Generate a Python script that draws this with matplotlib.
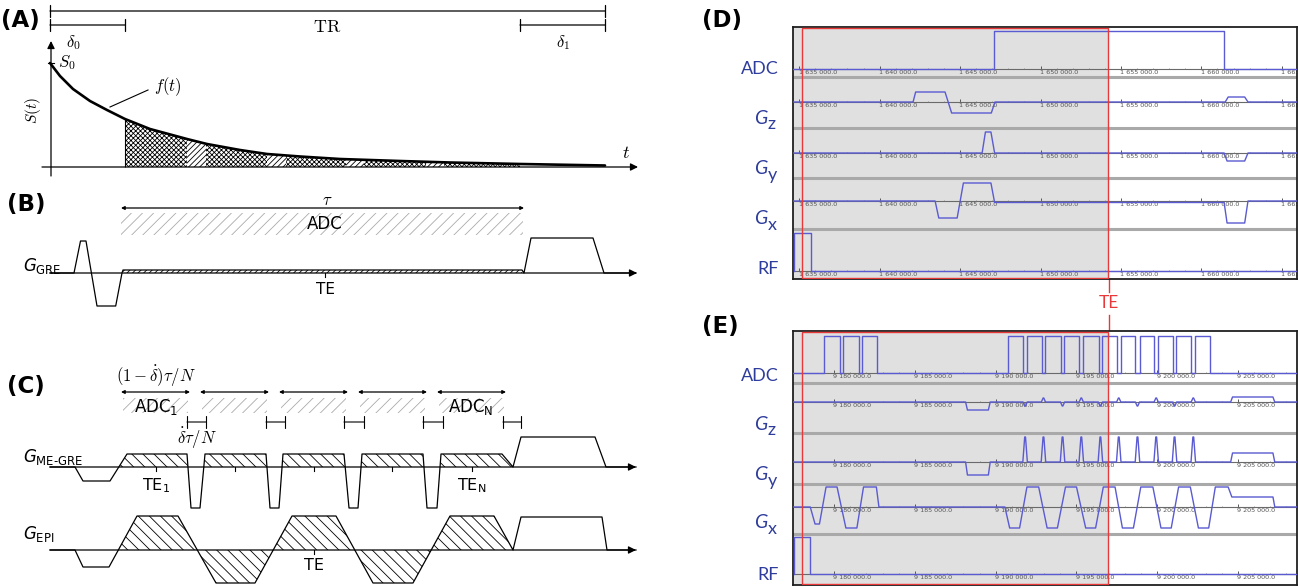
import matplotlib
matplotlib.use("Agg")
import matplotlib.pyplot as plt
import numpy as np
from matplotlib.patches import Polygon, Rectangle

plt.rcParams["mathtext.fontset"] = "cm"
plt.rcParams["hatch.linewidth"] = 0.6

W, H = 1298, 587
BLUE = "#5a5ad2"
LABEL_BLUE = "#2e3c9c"
RED = "#e8383a"
SHADE = "#e0e0e0"
SEP = "#a9a9a9"
HATCH_GRAY = "#aaaaaa"

# ---------------- (A) signal decay, schematic time units ----------------
TR_SPAN = (50, 605)
DELTA0_SPAN = (50, 125)
DELTA1_SPAN = (520, 605)
CURVE_T = [50, 60, 73, 90, 107, 125, 150, 187, 207, 240, 267, 300, 340, 400, 450, 520, 605]
CURVE_S = [104, 91, 78, 66, 57, 48, 38, 28, 23, 17, 13, 10.5, 8, 6, 4.5, 3, 1.5]
CROSS_SEGS = [(125, 187), (206, 267), (286, 346), (364, 426), (444, 520)]
DIAG_SEGS = [(187, 206), (267, 286), (346, 364), (426, 444)]

# ---------------- (B) GRE ----------------
TAU_SPAN = (121, 524)
GRE_T = [50, 74, 80.5, 86, 97, 115.7, 122, 123, 522, 524, 531, 593, 604, 636]
GRE_A = [0, 0, 32, 32, -33, -33, 0, 3, 3, 0, 35, 35, 0, 0]
GRE_TE = 325

# ---------------- (C) ME-GRE and EPI ----------------
ADC_SEGS = [(121, 190), (200, 269), (279, 348), (358, 427), (437, 506)]
GAP_SEGS = [(187, 206), (266, 285), (344, 364), (423, 443), (503, 521)]
ME_T = [50, 75, 83, 110, 127, 187, 191, 200, 205, 266, 270, 279, 283, 344, 349, 358,
        362, 423, 427, 437, 441, 502, 513, 521, 595, 606, 636]
ME_A = [0, 0, -14, -14, 13, 13, -41, -41, 13, 13, -41, -41, 13, 13, -41, -41,
        13, 13, -41, -41, 13, 13, 0, 30, 30, 0, 0]
ME_TE = [156, 235, 314, 392, 472]
EPI_T = [50, 75, 83, 109, 137, 178, 216, 255, 292, 336, 373, 413, 450, 494, 513, 521, 602, 607, 636]
EPI_A = [0, 0, -17, -17, 34, 34, -33, -33, 34, 34, -33, -33, 34, 34, 0, 33, 33, 0, 0]
EPI_TE = 314

# ---------------- (D) sequence diagram, GRE ----------------
D_RANGE = (1634612, 1665945)
D_START = 1635160
D_TE = 1654224
D_MAJOR = list(range(1635000, 1665001, 5000))
D_ADC_T = [1634612, 1647100, 1647100, 1661414, 1661414, 1665945]
D_ADC_A = [0, 0, 38, 38, 0, 0]
D_GZ_T = [1634612, 1642077, 1642237, 1644064, 1644474, 1646940, 1647168,
          1661483, 1661666, 1662693, 1662898, 1665945]
D_GZ_A = [0, 0, 10, 10, -11, -11, 0, 0, 5, 5, 0, 0]
D_GY_T = [1634612, 1646369, 1646575, 1646917, 1647146, 1661414, 1661597, 1662693, 1662898, 1665945]
D_GY_A = [0, 0, 21, 21, 0, 0, -8, -8, 0, 0]
D_GX_T = [1634612, 1643447, 1643675, 1644817, 1645205, 1646917, 1647146,
          1661414, 1661597, 1662693, 1662898, 1665945]
D_GX_A = [0, 0, -17, -17, 18, 18, -1.5, -1.5, -22, -22, 0, 0]
D_RF_T = [1634658, 1634658, 1635731, 1635731, 1665945]
D_RF_A = [0, 38, 38, 0, 0]

# ---------------- (E) sequence diagram, EPI ----------------
E_RANGE = (9177454, 9208650)
E_START = 9178000
E_TE = 9196980
E_MAJOR = list(range(9180000, 9205001, 5000))
E_ADC_ON = [9179386, 9180568, 9181750, 9190751, 9191933, 9193070, 9194252,
            9195411, 9196593, 9197729, 9198911, 9200048, 9201184, 9202343]
E_ADC_OFF = [9180341, 9181523, 9182682, 9191706, 9192842, 9194024, 9195184,
             9196366, 9197502, 9198638, 9199820, 9200957, 9202116, 9203252]
E_BLIPS = [9191820, 9192956, 9194138, 9195298, 9196480, 9197616, 9198775, 9199934, 9201070, 9202230]
E_BLIP_SIGN = [-1, 1, -1, 1, -1, 1, -1, 1, -1, 1]
E_PRE_T = [9188137, 9188251, 9189547, 9189660]
E_SPOIL_T = [9204545, 9204659, 9207160, 9207273]
E_GZ_PRE, E_GZ_SPOIL, E_GZ_BLIP = -8, 5, 4
E_GY_PRE, E_GY_SPOIL, E_GY_BLIP = -13, 9, 25
E_GX_T = [9177454, 9178523, 9178818, 9179091, 9179500, 9180182, 9180727, 9181409, 9181818,
          9182614, 9182773, 9190569, 9190865, 9191479, 9191933, 9192661, 9193183, 9193820,
          9194320, 9195002, 9195570, 9196184, 9196661, 9197388, 9197843, 9198525, 9198980,
          9199730, 9200230, 9200866, 9201321, 9202048, 9202548, 9203185, 9203594, 9204389,
          9204617, 9207162, 9207276, 9208650]
E_GX_A = [0, 0, -17, -17, 20, 20, -21, -21, 20, 20, 0, 0, -21, -21, 20, 20, -21, -21,
          20, 20, -21, -21, 20, 20, -21, -21, 20, 20, -21, -21, 20, 20, -21, -21, 20, 20,
          10, 10, 0, 0]
E_RF_T = [9177500, 9177500, 9178523, 9178523, 9208650]
E_RF_A = [0, 37, 37, 0, 0]
E_ADC_H = 37

ROW_NAMES = ["ADC", "z", "y", "x", "RF"]


fig = plt.figure(figsize=(W / 100, H / 100), dpi=100)
ax = fig.add_axes([0, 0, 1, 1])
ax.set_xlim(0, W)
ax.set_ylim(H, 0)
ax.axis("off")


def arrow(x0, y0, x1, y1, style, lw=1.0, ms=10, color="k"):
    ax.annotate("", xy=(x1, y1), xytext=(x0, y0),
                arrowprops=dict(arrowstyle=style, lw=lw, color=color,
                                shrinkA=0, shrinkB=0, mutation_scale=ms))


def panel_label(x, y, s):
    ax.text(x, y, s, fontsize=16.5, fontweight="bold", family="DejaVu Sans",
            ha="left", va="center")


# ===== (A) =====
A_BASE = 167
panel_label(1, 21, "(A)")
arrow(TR_SPAN[0], 11, TR_SPAN[1], 11, "|-|,widthA=0.45,widthB=0.45", lw=0.9)
arrow(DELTA0_SPAN[0], 25, DELTA0_SPAN[1], 25, "|-|,widthA=0.45,widthB=0.45", lw=0.9)
arrow(DELTA1_SPAN[0], 25, DELTA1_SPAN[1], 25, "|-|,widthA=0.45,widthB=0.45", lw=0.9)
ax.text(327, 27, r"$\mathrm{TR}$", fontsize=13, ha="center", va="center")
ax.text(73, 43, r"$\delta_0$", fontsize=12, ha="center", va="center")
ax.text(563, 43, r"$\delta_1$", fontsize=12, ha="center", va="center")

arrow(51, 176, 51, 41, "-|>", lw=0.9, ms=11)
arrow(42, A_BASE, 638, A_BASE, "-|>", lw=0.9, ms=11)
ax.plot([48, 54], [A_BASE - CURVE_S[0]] * 2, color="k", lw=0.8)
ax.text(58, 63, r"$S_0$", fontsize=12, ha="left", va="center")
ax.text(33, 110, r"$S(t)$", fontsize=11, rotation=90, ha="center", va="center")
ax.text(626, 153, r"$t$", fontsize=13, ha="center", va="center")
ax.text(168, 87, r"$f(t)$", fontsize=12, ha="center", va="center")
ax.plot([110, 148], [107, 90], color="k", lw=0.8)

curve_y = A_BASE - np.array(CURVE_S)
under = Polygon(np.column_stack([np.r_[CURVE_T, CURVE_T[::-1]],
                                 np.r_[curve_y, np.full(len(CURVE_T), A_BASE)]]),
                closed=True, transform=ax.transData)
for segs, hatch in ((CROSS_SEGS, "xxxxxxx"), (DIAG_SEGS, "//////")):
    for x0, x1 in segs:
        r = Rectangle((x0, A_BASE - 120), x1 - x0, 120, hatch=hatch, fill=False,
                      edgecolor="k", lw=0)
        ax.add_patch(r)
        r.set_clip_path(under)
ax.vlines(CROSS_SEGS[0][0], A_BASE - CURVE_S[CURVE_T.index(CROSS_SEGS[0][0])], A_BASE,
          color="k", lw=0.8)
ax.plot(CURVE_T, curve_y, color="k", lw=1.9, solid_capstyle="round")

# ===== (B) =====
B_BASE = 273
panel_label(7, 205, "(B)")
arrow(TAU_SPAN[0], 208, TAU_SPAN[1], 208, "<|-|>", lw=0.9, ms=5)
ax.text(327, 200, r"$\tau$", fontsize=12, ha="center", va="center")
ax.add_patch(Rectangle((TAU_SPAN[0], 213), TAU_SPAN[1] - TAU_SPAN[0] - 1, 22, hatch="///",
                       fill=False, edgecolor=HATCH_GRAY, lw=0))
ax.text(325, 224, "ADC", fontsize=12, ha="center", va="center")
arrow(50, B_BASE, 637, B_BASE, "-|>", lw=0.9, ms=11)
ax.add_patch(Rectangle((GRE_T[7], B_BASE - GRE_A[7]), GRE_T[8] - GRE_T[7], GRE_A[7],
                       hatch="//////", fill=False, edgecolor="k", lw=0))
ax.plot(GRE_T, B_BASE - np.array(GRE_A), color="k", lw=0.9)
ax.plot([GRE_TE, GRE_TE], [B_BASE, B_BASE + 4], color="k", lw=0.8)
ax.text(GRE_TE, 289, "TE", fontsize=11, ha="center", va="center")
ax.text(23, 271, r"$G_{\mathrm{GRE}}$", fontsize=12, ha="left", va="baseline",
        math_fontfamily="dejavusans")

# ===== (C) =====
ME_BASE = 467
EPI_BASE = 550
panel_label(7, 387, "(C)")
ax.text(156, 376, r"$(1-\dot{\delta})\tau/N$", fontsize=12, ha="center", va="center")
for x0, x1 in ADC_SEGS:
    arrow(x0, 392, x1, 392, "<|-|>", lw=0.9, ms=5)
    ax.add_patch(Rectangle((x0 + 2, 398), x1 - x0 - 4, 15, hatch="///", fill=False,
                           edgecolor=HATCH_GRAY, lw=0))
for x0, x1 in GAP_SEGS:
    arrow(x0, 422, x1, 422, "|-|,widthA=0.4,widthB=0.4", lw=0.8)
ax.text(156, 407, r"$\mathrm{ADC}_1$", fontsize=12, ha="center", va="center",
        math_fontfamily="dejavusans")
ax.text(471, 407, r"$\mathrm{ADC}_\mathrm{N}$", fontsize=12, ha="center", va="center",
        math_fontfamily="dejavusans")
ax.text(197, 438, r"$\dot{\delta}\tau/N$", fontsize=12, ha="center", va="center")

me_t = np.array(ME_T)
me_a = np.array(ME_A)
ro = slice(3, 23)
ax.fill_between(me_t[ro], ME_BASE - me_a[ro], ME_BASE, where=me_a[ro] >= 0, interpolate=True,
                facecolor="none", edgecolor="k", hatch="\\\\\\", linewidth=0)
arrow(50, ME_BASE, 636, ME_BASE, "-|>", lw=0.9, ms=11)
ax.plot(ME_T, ME_BASE - me_a, color="k", lw=0.9)
for x in ME_TE:
    ax.plot([x, x], [ME_BASE, ME_BASE + 4], color="k", lw=0.8)
ax.text(ME_TE[0], 486, r"$\mathrm{TE}_1$", fontsize=11.5, ha="center", va="center",
        math_fontfamily="dejavusans")
ax.text(ME_TE[-1], 486, r"$\mathrm{TE}_\mathrm{N}$", fontsize=11.5, ha="center", va="center",
        math_fontfamily="dejavusans")
ax.text(23, 462, "$G_{\\mathrm{ME\u2010GRE}}$", fontsize=12, ha="left", va="baseline",
        math_fontfamily="dejavusans")

epi_t = np.array(EPI_T)
epi_a = np.array(EPI_A)
pos = slice(3, 15)
neg = slice(5, 14)
ax.fill_between(epi_t[pos], EPI_BASE - epi_a[pos], EPI_BASE, where=epi_a[pos] >= 0,
                interpolate=True, facecolor="none", edgecolor="k", hatch="\\\\\\", linewidth=0)
ax.fill_between(epi_t[neg], EPI_BASE - epi_a[neg], EPI_BASE, where=epi_a[neg] <= 0,
                interpolate=True, facecolor="none", edgecolor="k", hatch="\\\\\\", linewidth=0)
arrow(50, EPI_BASE, 636, EPI_BASE, "-|>", lw=0.9, ms=11)
ax.plot(EPI_T, EPI_BASE - epi_a, color="k", lw=0.9)
ax.plot([EPI_TE, EPI_TE], [EPI_BASE, EPI_BASE + 4], color="k", lw=0.8)
ax.text(EPI_TE, 565, "TE", fontsize=11.5, ha="center", va="center")
ax.text(23, 538.5, r"$G_{\mathrm{EPI}}$", fontsize=12, ha="left", va="baseline",
        math_fontfamily="dejavusans")


# ===== (D) and (E): sequence viewer panels =====
def row_labels(label_ys):
    for name, yc in zip(ROW_NAMES, label_ys):
        if name in ("ADC", "RF"):
            ax.text(779, yc, name, fontsize=13, family="Lato", color=LABEL_BLUE,
                    ha="right", va="center")
        else:
            ax.text(754, yc, "G", fontsize=14, family="Lato", style="italic",
                    color=LABEL_BLUE, ha="left", va="center")
            ax.text(768, yc + 6, name, fontsize=13, family="Lato", color=LABEL_BLUE,
                    ha="left", va="center")


def seq_panel(top, bottom, t_range, t_start, t_te, majors, bases, seps, waves):
    left, right = 793, 1297
    sax = fig.add_axes([left / W, 1 - bottom / H, (right - left) / W, (bottom - top) / H])
    sax.set_xlim(*t_range)
    sax.set_ylim(bottom, top)
    sax.set_xticks([])
    sax.set_yticks([])
    for sp in sax.spines.values():
        sp.set_linewidth(1.3)
        sp.set_color("#202020")
    sax.add_patch(Rectangle((t_range[0], top), t_te - t_range[0], bottom - top,
                            color=SHADE, lw=0, zorder=0))
    for y in seps:
        sax.axhline(y, color=SEP, lw=2.2, zorder=1)
    minors = np.arange(majors[0], t_range[1], 1000)
    for base, (tt, aa) in zip(bases, waves):
        sax.axhline(base, color="#6a6a6a", lw=0.8, zorder=2)
        sax.vlines(majors, base - 3, base, color="#555555", lw=0.7, zorder=2)
        sax.vlines(minors, base - 1.2, base, color="#777777", lw=0.5, zorder=2)
        for t in majors:
            lab = f"{t:,.1f}".replace(",", " ")
            sax.text(t - 40, base + 1.2, lab, fontsize=4.6, color="#555555",
                     ha="left", va="top", clip_on=True, zorder=2)
        sax.plot(tt, base - np.asarray(aa, dtype=float), color=BLUE, lw=1.0, zorder=3)
    sax.add_patch(Rectangle((t_start, top + 0.8), t_te - t_start, bottom - top - 1.8,
                            fill=False, edgecolor=RED, lw=1.0, zorder=4))
    return sax


# D
D_BASES = [69, 102, 153, 201, 271]
D_SEPS = [77.5, 128.5, 178.5, 229.5]
panel_label(702, 21, "(D)")
ax.plot([1108.6, 1108.6], [27, 292], color=RED, lw=1.0)
seq_panel(26.7, 279.3, D_RANGE, D_START, D_TE, D_MAJOR, D_BASES, D_SEPS,
          [(D_ADC_T, D_ADC_A), (D_GZ_T, D_GZ_A), (D_GY_T, D_GY_A),
           (D_GX_T, D_GX_A), (D_RF_T, D_RF_A)])
row_labels([69, 118, 169, 219, 269])

# E: build waveforms from event lists
e_adc_t, e_adc_a = [E_RANGE[0]], [0]
for on, off in zip(E_ADC_ON, E_ADC_OFF):
    e_adc_t += [on, on, off, off]
    e_adc_a += [0, E_ADC_H, E_ADC_H, 0]
e_adc_t.append(E_RANGE[1])
e_adc_a.append(0)


def grad_with_blips(pre_amp, blip_amp, spoil_amp, blip_half, top_half, signs):
    tt = [E_RANGE[0]] + E_PRE_T
    aa = [0, 0, pre_amp, pre_amp, 0]
    for c, s in zip(E_BLIPS, signs):
        tt += [c - blip_half, c - top_half, c + top_half, c + blip_half]
        aa += [0, s * blip_amp, s * blip_amp, 0]
    tt += E_SPOIL_T + [E_RANGE[1]]
    aa += [0, spoil_amp, spoil_amp, 0, 0]
    return tt, aa


e_gz_t, e_gz_a = grad_with_blips(E_GZ_PRE, E_GZ_BLIP, E_GZ_SPOIL, 130, 20, E_BLIP_SIGN)
e_gy_t, e_gy_a = grad_with_blips(E_GY_PRE, E_GY_BLIP, E_GY_SPOIL, 140, 25, [1] * len(E_BLIPS))

E_BASES = [373, 402, 462, 507, 574]
E_SEPS = [382.5, 432.5, 483.5, 533.5]
panel_label(702, 326, "(E)")
ax.plot([1108.6, 1108.6], [315, 584], color=RED, lw=1.0)
ax.text(1108.6, 303, "TE", fontsize=12.5, family="Lato", color=RED, ha="center", va="center")
seq_panel(331, 584.5, E_RANGE, E_START, E_TE, E_MAJOR, E_BASES, E_SEPS,
          [(e_adc_t, e_adc_a), (e_gz_t, e_gz_a), (e_gy_t, e_gy_a),
           (E_GX_T, E_GX_A), (E_RF_T, E_RF_A)])
row_labels([376, 424, 475, 523, 575])

fig.savefig("out.png", dpi=100)
